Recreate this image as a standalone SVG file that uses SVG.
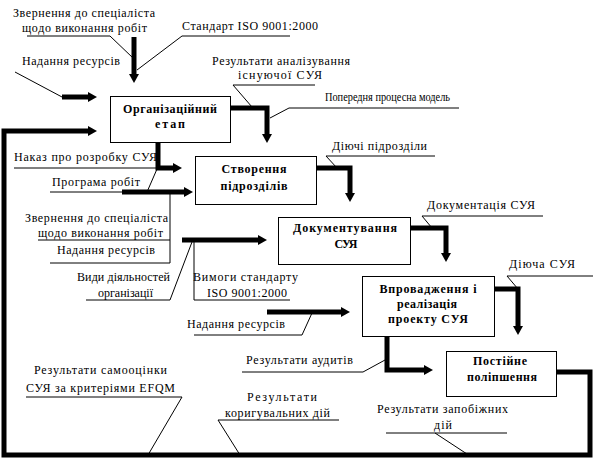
<svg xmlns="http://www.w3.org/2000/svg" width="593" height="459" viewBox="0 0 593 459">
<style>
.box{fill:#fff;stroke:#000;stroke-width:1}
text{font-family:"Times New Roman","Liberation Serif","DejaVu Serif",serif;font-size:12px;fill:#000}
.b{font-weight:bold;text-anchor:middle}
.thick{fill:none;stroke:#000;stroke-width:5;stroke-linejoin:miter}
.arr{marker-end:url(#ah)}
.thin{fill:none;stroke:#000;stroke-width:1}
</style>
<defs>
<marker id="ah" markerUnits="userSpaceOnUse" markerWidth="9" markerHeight="10" viewBox="0 0 9 10" refX="0" refY="5" orient="auto">
<path d="M0,0 L9,5 L0,10 z" fill="#000"/>
</marker>
</defs>
<rect width="593" height="459" fill="#fff"/>
<g id="connectors">
<path class="thick arr" d="M134,37 V74"/>
<path class="thick arr" d="M62,97 H88"/>
<path class="thick arr" d="M556,372 H590 V455 H4 V131 H88"/>
<path class="thick arr" d="M230,108 H267 V134"/>
<path class="thick arr" d="M158,142 V168 H173"/>
<path class="thick arr" d="M122,192 H184"/>
<path class="thick arr" d="M316,168 H350 V193"/>
<path class="thick arr" d="M182,240 H258"/>
<path class="thick arr" d="M410,228 H446 V253"/>
<path class="thick arr" d="M267,312 H341"/>
<path class="thick arr" d="M494,289 H518 V326"/>
<path class="thick arr" d="M387,336 V370 H424"/>
<path class="thin" d="M27,36 H110 L133,58"/>
<path class="thin" d="M290,36 H182 L137,70"/>
<path class="thin" d="M15,72 L62,97"/>
<path class="thin" d="M315,85 H233 L252,107"/>
<path class="thin" d="M459,108 H289 L270,118"/>
<path class="thin" d="M435,156 H326 L337,168"/>
<path class="thin" d="M14,168 H158"/>
<path class="thin" d="M157,169 L147,192"/>
<path class="thin" d="M50,192 H123"/>
<path class="thin" d="M170,192 V263"/>
<path class="thin" d="M38,240 H170"/>
<path class="thin" d="M50,263 H170"/>
<path class="thin" d="M86,300 H170 L192,242"/>
<path class="thin" d="M194,242 V300 H290"/>
<path class="thin" d="M543,216 H422 L432,228"/>
<path class="thin" d="M593,276 H507 L518,289"/>
<path class="thin" d="M194,335 H302 L312,313"/>
<path class="thin" d="M242,372 H363 L385,360"/>
<path class="thin" d="M26,397 H182 L148,455"/>
<path class="thin" d="M339,420 H218 L240,455"/>
<path class="thin" d="M386,433 H507"/>
<path class="thin" d="M435,433 L467,454"/>
</g>
<g id="n1">
<rect class="box" x="110.5" y="96.5" width="120" height="46"/>
<text class="b" x="170" y="113" textLength="94" lengthAdjust="spacing">Організаційний</text>
<text class="b" x="170" y="128" textLength="30" lengthAdjust="spacing">етап</text>
</g>
<g id="n2">
<rect class="box" x="195.5" y="156.5" width="121" height="48"/>
<text class="b" x="254" y="173" textLength="65" lengthAdjust="spacing">Створення</text>
<text class="b" x="254" y="190" textLength="67" lengthAdjust="spacing">підрозділів</text>
</g>
<g id="n3">
<rect class="box" x="278.5" y="217.5" width="132" height="47"/>
<text class="b" x="345" y="232" textLength="104" lengthAdjust="spacing">Документування</text>
<text class="b" x="346" y="248" textLength="23" lengthAdjust="spacing">СУЯ</text>
</g>
<g id="n4">
<rect class="box" x="362.5" y="276.5" width="132" height="60"/>
<text class="b" x="428" y="293" textLength="97" lengthAdjust="spacing">Впровадження і</text>
<text class="b" x="427" y="308" textLength="60" lengthAdjust="spacing">реалізація</text>
<text class="b" x="428" y="323" textLength="80" lengthAdjust="spacing">проекту СУЯ</text>
</g>
<g id="n5">
<rect class="box" x="446.5" y="351.5" width="110" height="45"/>
<text class="b" x="500" y="365" textLength="54" lengthAdjust="spacing">Постійне</text>
<text class="b" x="502" y="381" textLength="70" lengthAdjust="spacing">поліпшення</text>
</g>
<g id="labels">
<text x="13" y="17" textLength="142" lengthAdjust="spacing">Звернення до спеціаліста</text>
<text x="22" y="32" textLength="125" lengthAdjust="spacing">щодо виконання робіт</text>
<text x="182" y="30" textLength="136" lengthAdjust="spacing">Стандарт ISO 9001:2000</text>
<text x="22" y="65" textLength="98" lengthAdjust="spacing">Надання ресурсів</text>
<text x="212" y="65" textLength="138" lengthAdjust="spacing">Результати аналізування</text>
<text x="238" y="79" textLength="84" lengthAdjust="spacing">існуючої СУЯ</text>
<text x="325" y="101" textLength="125" lengthAdjust="spacingAndGlyphs">Попередня процесна модель</text>
<text x="332" y="150" textLength="95" lengthAdjust="spacing">Діючі підрозділи</text>
<text x="14" y="161" textLength="143" lengthAdjust="spacing">Наказ про розробку СУЯ</text>
<text x="52" y="186" textLength="88" lengthAdjust="spacing">Програма робіт</text>
<text x="25" y="222" textLength="143" lengthAdjust="spacing">Звернення до спеціаліста</text>
<text x="38" y="237" textLength="125" lengthAdjust="spacing">щодо виконання робіт</text>
<text x="57" y="254" textLength="98" lengthAdjust="spacing">Надання ресурсів</text>
<text x="77" y="281" textLength="93" lengthAdjust="spacing">Види діяльностей</text>
<text x="98" y="297" textLength="55" lengthAdjust="spacing">організації</text>
<text x="193" y="281" textLength="105" lengthAdjust="spacing">Вимоги стандарту</text>
<text x="207" y="297" textLength="80" lengthAdjust="spacing">ISO 9001:2000</text>
<text x="427" y="209" textLength="108" lengthAdjust="spacing">Документація СУЯ</text>
<text x="509" y="268" textLength="66" lengthAdjust="spacing">Діюча СУЯ</text>
<text x="187" y="328" textLength="98" lengthAdjust="spacing">Надання ресурсів</text>
<text x="246" y="364" textLength="107" lengthAdjust="spacing">Результати аудитів</text>
<text x="34" y="374" textLength="133" lengthAdjust="spacing">Результати самооцінки</text>
<text x="26" y="392" textLength="149" lengthAdjust="spacing">СУЯ за критеріями EFQM</text>
<text x="247" y="401" textLength="70" lengthAdjust="spacing">Результати</text>
<text x="225" y="417" textLength="105" lengthAdjust="spacing">коригувальних дій</text>
<text x="377" y="413" textLength="131" lengthAdjust="spacing">Результати запобіжних</text>
<text x="434" y="429" textLength="18" lengthAdjust="spacing">дій</text>
</g>
</svg>
